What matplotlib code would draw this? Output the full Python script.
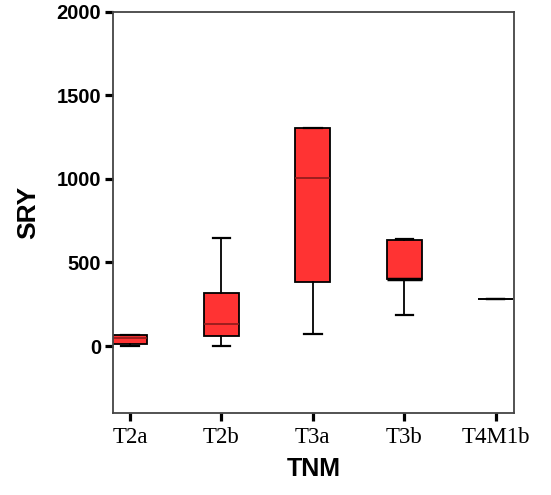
import matplotlib
matplotlib.use("Agg")
from matplotlib import pyplot as plt

# box plot summary per TNM stage
stages = ["T2a", "T2b", "T3a", "T3b", "T4M1b"]
low = [0, 2, 74, 187, 283]
q1 = [12, 62, 385, 401, 283]
med = [48, 134, 1008, 401, 283]
q3 = [66, 316, 1307, 635, 283]
high = [66, 647, 1307, 639, 283]

stats = []
for i in range(len(stages)):
    stats.append({"label": stages[i], "whislo": low[i], "q1": q1[i], "med": med[i],
                  "q3": q3[i], "whishi": high[i], "fliers": []})

fig = plt.figure(figsize=(5.51, 4.95), dpi=100)
ax = fig.add_axes([0.205, 0.166, 0.728, 0.810])

bp = ax.bxp(stats, positions=range(1, 6), widths=0.38, patch_artist=True,
            showfliers=False,
            boxprops=dict(facecolor="#ff3333", edgecolor="black", linewidth=1.3),
            medianprops=dict(color="#8b1a1a", linewidth=1.2),
            whiskerprops=dict(color="black", linewidth=1.3),
            capprops=dict(color="black", linewidth=1.6),
            capwidths=0.19)
# T3b median sits on the lower edge, drawn dark
bp["medians"][3].set_color("black")
bp["medians"][3].set_linewidth(2.5)
# T4M1b has a single value: just a line
bp["boxes"][4].set_facecolor("none")
bp["boxes"][4].set_linewidth(1.2)
bp["medians"][4].set_color("black")

ax.set_xlim(0.815, 5.2)
ax.set_ylim(-400, 2000)
ax.set_yticks([0, 500, 1000, 1500, 2000])
ax.set_xticks(range(1, 6))
ax.set_xticklabels(stages, family="Liberation Serif", fontsize=16.5)
for t in ax.get_yticklabels():
    t.set_family("Liberation Sans")
    t.set_fontweight("bold")
    t.set_fontsize(14.5)
ax.tick_params(axis="both", direction="out", length=5.5, width=2.3, color="black")
ax.tick_params(axis="y", pad=3)
ax.tick_params(axis="x", pad=5)
for s in ax.spines.values():
    s.set_color("#444444")
    s.set_linewidth(1.3)

ax.set_ylabel("SRY", family="Liberation Sans", fontweight="bold", fontsize=19, labelpad=12)
ax.set_xlabel("TNM", family="Liberation Sans", fontweight="bold", fontsize=18, labelpad=6)

fig.savefig("out.png", dpi=100)
